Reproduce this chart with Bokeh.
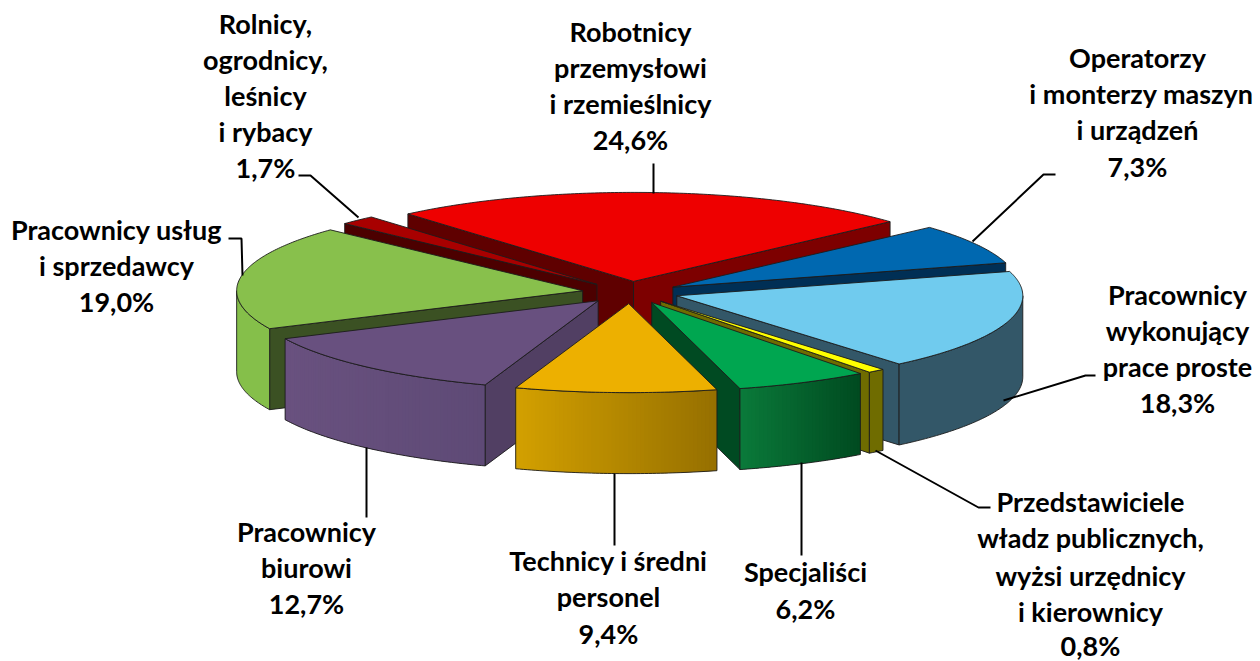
import math
from bokeh.plotting import figure
from bokeh.models import Range1d
from bokeh.core.properties import value
from bokeh.embed import file_html
from bokeh.resources import INLINE

# ---- data, clockwise from the first slice
categories = ["Robotnicy przemysłowi i rzemieślnicy", "Operatorzy i monterzy maszyn i urządzeń",
              "Pracownicy wykonujący prace proste",
              "Przedstawiciele władz publicznych, wyżsi urzędnicy i kierownicy",
              "Specjaliści", "Technicy i średni personel", "Pracownicy biurowi",
              "Pracownicy usług i sprzedawcy", "Rolnicy, ogrodnicy, leśnicy i rybacy"]
shares = [24.6, 7.3, 18.3, 0.8, 6.2, 9.4, 12.7, 19.0, 1.7]

top_colors = ["#EE0000", "#0068B0", "#70CBEE", "#FFFF00", "#00A650", "#EDB000", "#68507F", "#88C04C", "#A80000"]
side_left = ["#7D0000", "#00528A", "#335768", "#6F6C00", "#0A7A3A", "#D3A000", "#69517F", "#85BF4A", "#7D0000"]
side_right = ["#7D0000", "#00528A", "#335768", "#6F6C00", "#004A20", "#967000", "#5E4A76", "#85BF4A", "#7D0000"]
face_start = ["#5F0000", "#002F55", "#335768", "#6F6C00", "#004A22", "#967000", "#513F63", "#3B5123", "#4C0000"]
face_end = ["#7D0000", "#002F55", "#335768", "#6F6C00", "#004A22", "#967000", "#513F63", "#3B5123", "#4C0000"]

# order in which slices are painted, back to front
paint_order = [0, 8, 1, 7, 2, 6, 3, 4, 5]

# ---- label text and positions
labels = [
    (630, 31, "Robotnicy"), (630, 67, "przemysłowi"), (630, 103, "i rzemieślnicy"), (630, 139, "24,6%"),
    (1137, 57, "Operatorzy"), (1141, 93, "i monterzy maszyn"), (1137, 129, "i urządzeń"), (1137, 166, "7,3%"),
    (1177, 294, "Pracownicy"), (1177, 330, "wykonujący"), (1177, 366, "prace proste"), (1177, 402, "18,3%"),
    (1090, 501, "Przedstawiciele"), (1090, 537, "władz publicznych,"), (1090, 575, "wyżsi urzędnicy"),
    (1090, 611, "i kierownicy"), (1090, 645, "0,8%"),
    (805, 571, "Specjaliści"), (805, 608, "6,2%"),
    (608, 560, "Technicy i średni"), (608, 596, "personel"), (608, 633, "9,4%"),
    (306, 531, "Pracownicy"), (306, 567, "biurowi"), (306, 603, "12,7%"),
    (116, 229, "Pracownicy usług"), (116, 265, "i sprzedawcy"), (116, 301, "19,0%"),
    (265, 23, "Rolnicy,"), (265, 59, "ogrodnicy,"), (265, 95, "leśnicy"), (265, 131, "i rybacy"), (265, 167, "1,7%"),
]
leaders = [
    [(653, 163), (653, 193)],
    [(1055, 174), (1043, 174), (972, 241)],
    [(1095, 375), (1085, 375), (1003, 400)],
    [(875, 450), (978, 507), (990, 507)],
    [(801, 462), (801, 555)],
    [(614, 473), (614, 545)],
    [(366, 447), (366, 517)],
    [(228, 238), (241, 238), (242, 275)],
    [(298, 175), (310, 175), (358, 217)],
]

# ---- projection of the pie
CX, CY, RX, RY = 630, 292, 346, 89
DEPTH = 81
EX, EY = 0.14, 0.125
START = -40.7
EDGE = "#1c1c1c"

p = figure(width=1260, height=661, output_backend="svg", toolbar_location=None,
           x_range=Range1d(0, 1260), y_range=Range1d(661, 0),
           x_axis_type=None, y_axis_type=None, min_border=0, outline_line_color=None)
p.grid.visible = False

def mix(a, b, t):
    ca = [int(a[i:i + 2], 16) for i in (1, 3, 5)]
    cb = [int(b[i:i + 2], 16) for i in (1, 3, 5)]
    return "#%02x%02x%02x" % tuple(round(x + (y - x) * t) for x, y in zip(ca, cb))

def poly(xs, ys, fill, lw=0.9, line=EDGE):
    p.patch(xs, ys, fill_color=fill, line_color=line, line_width=lw)

bounds = [START]
for s in shares:
    bounds.append(bounds[-1] + s * 3.6)

for i in paint_order:
    a0, a1 = bounds[i], bounds[i + 1]
    mid = math.radians((a0 + a1) / 2)
    ax = CX + RX * EX * math.sin(mid)
    ay = CY - RY * EY * math.cos(mid)
    pt = lambda deg: (ax + RX * math.sin(math.radians(deg)), ay - RY * math.cos(math.radians(deg)))

    # radial faces
    if math.sin(math.radians(a0)) < 0:
        x, y = pt(a0)
        poly([ax, x, x, ax], [ay, y, y + DEPTH, ay + DEPTH], face_start[i])
    if math.sin(math.radians(a1)) > 0:
        x, y = pt(a1)
        poly([ax, x, x, ax], [ay, y, y + DEPTH, ay + DEPTH], face_end[i])

    # outer face: the part of the rim that faces the viewer
    spans = []
    for k in (0, 360):
        lo, hi = max(a0, 90 + k), min(a1, 270 + k)
        if hi > lo:
            spans.append((lo, hi))
    for lo, hi in spans:
        n = max(2, int((hi - lo) * 1.5))
        angs = [lo + (hi - lo) * j / n for j in range(n + 1)]
        pts = [pt(t) for t in angs]
        xs = [q[0] for q in pts]
        ys = [q[1] for q in pts]
        xmin, xmax = min(xs), max(xs)
        if side_left[i] == side_right[i]:
            p.patch(xs + xs[::-1], ys + [v + DEPTH for v in ys[::-1]],
                    fill_color=side_left[i], line_color=None)
        else:
            for j in range(n):
                sx = xs[j:j + 3]
                sy = ys[j:j + 3]
                frac = ((xs[j] + xs[j + 1]) / 2 - xmin) / max(xmax - xmin, 1)
                c = mix(side_left[i], side_right[i], frac)
                p.patch(sx + sx[::-1], sy + [v + DEPTH for v in sy[::-1]], fill_color=c, line_color=None)
        p.line(xs + xs[::-1] + xs[:1], ys + [v + DEPTH for v in ys[::-1]] + ys[:1], line_color=EDGE, line_width=0.9)

    # top surface
    n = max(2, int((a1 - a0) * 1.5))
    arc = [pt(a0 + (a1 - a0) * j / n) for j in range(n + 1)]
    poly([ax] + [q[0] for q in arc], [ay] + [q[1] for q in arc], top_colors[i])

# ---- leader lines
for seg in leaders:
    p.line([q[0] for q in seg], [q[1] for q in seg], line_color="black", line_width=2)

# ---- labels
p.text([l[0] for l in labels], [l[1] for l in labels], text=[l[2] for l in labels],
       text_font=value("Lato"), text_font_style="bold", text_font_size="27px",
       text_align="center", text_baseline="middle", text_color="black")

open("out.html", "w").write(file_html(p, INLINE))
